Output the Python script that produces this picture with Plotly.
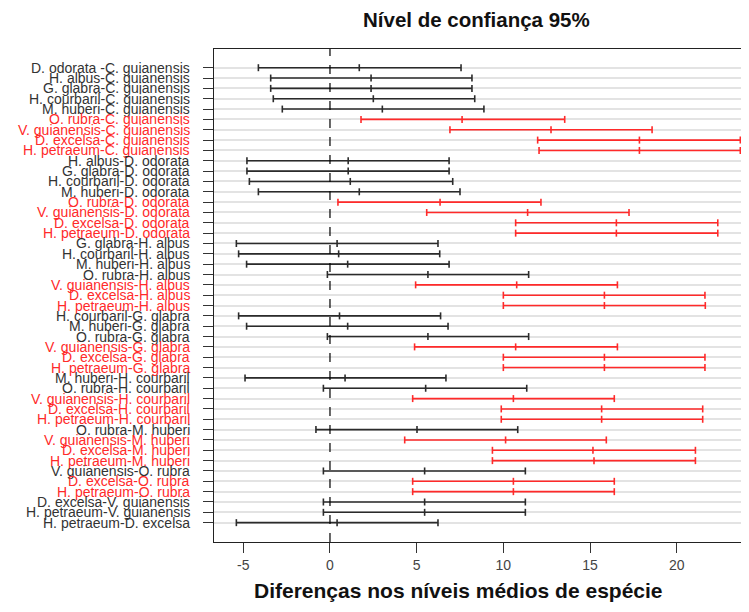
import plotly.graph_objects as go

comparisons = [
    "D. odorata -C. guianensis", "H. albus-C. guianensis", "G. glabra-C. guianensis",
    "H. courbaril-C. guianensis", "M. huberi-C. guianensis", "O. rubra-C. guianensis",
    "V. guianensis-C. guianensis", "D. excelsa-C. guianensis", "H. petraeum-C. guianensis",
    "H. albus-D. odorata", "G. glabra-D. odorata", "H. courbaril-D. odorata",
    "M. huberi-D. odorata", "O. rubra-D. odorata", "V. guianensis-D. odorata",
    "D. excelsa-D. odorata", "H. petraeum-D. odorata",
    "G. glabra-H. albus", "H. courbaril-H. albus", "M. huberi-H. albus", "O. rubra-H. albus",
    "V. guianensis-H. albus", "D. excelsa-H. albus", "H. petraeum-H. albus",
    "H. courbaril-G. glabra", "M. huberi-G. glabra", "O. rubra-G. glabra",
    "V. guianensis-G. glabra", "D. excelsa-G. glabra", "H. petraeum-G. glabra",
    "M. huberi-H. courbaril", "O. rubra-H. courbaril", "V. guianensis-H. courbaril",
    "D. excelsa-H. courbaril", "H. petraeum-H. courbaril",
    "O. rubra-M. huberi", "V. guianensis-M. huberi", "D. excelsa-M. huberi", "H. petraeum-M. huberi",
    "V. guianensis-O. rubra", "D. excelsa-O. rubra", "H. petraeum-O. rubra",
    "D. excelsa-V. guianensis", "H. petraeum-V. guianensis", "H. petraeum-D. excelsa",
]

diff = [1.69, 2.37, 2.37, 2.50, 3.02, 7.62, 12.75, 17.85, 17.85,
        1.05, 1.05, 1.17, 1.69, 6.35, 11.40, 16.52, 16.52,
        0.41, 0.50, 1.02, 5.65, 10.77, 15.83, 15.83,
        0.55, 1.02, 5.65, 10.71, 15.83, 15.83,
        0.87, 5.52, 10.58, 15.67, 15.67,
        5.02, 10.13, 15.17, 15.23,
        5.46, 10.58, 10.58,
        5.46, 5.46, 0.41]

lwr = [-4.13, -3.42, -3.42, -3.27, -2.75, 1.79, 6.92, 11.98, 12.06,
       -4.79, -4.79, -4.65, -4.13, 0.46, 5.58, 10.71, 10.71,
       -5.40, -5.27, -4.81, -0.15, 4.94, 10.00, 10.00,
       -5.27, -4.81, -0.15, 4.88, 10.00, 10.00,
       -4.90, -0.38, 4.77, 9.88, 9.88,
       -0.81, 4.31, 9.37, 9.37,
       -0.38, 4.77, 4.77,
       -0.38, -0.38, -5.40]

upr = [7.56, 8.19, 8.19, 8.35, 8.88, 13.54, 18.58, 23.67, 23.67,
       6.87, 6.87, 7.08, 7.50, 12.17, 17.25, 22.37, 22.37,
       6.23, 6.33, 6.87, 11.46, 16.58, 21.63, 21.65,
       6.38, 6.81, 11.46, 16.58, 21.63, 21.63,
       6.69, 11.35, 16.40, 21.50, 21.50,
       10.83, 15.94, 21.08, 21.08,
       11.27, 16.40, 16.40,
       11.27, 11.27, 6.23]

x_ticks = [-5, 0, 5, 10, 15, 20]

BLACK = "#2b2b2b"
RED = "#ff2a2a"

# page offset (browser body margin) and figure geometry
OFF = 8
W, H = 741, 604
ML, MR, MT, MB = 206, 4, 41, 70
PW, PH = W - ML - MR, H - MT - MB


def px_to_paper_x(px):
    return (px - OFF - ML) / PW


def px_to_paper_y(py):
    return 1 - (py - OFF - MT) / PH


fig = go.Figure()

for sig, color in [(False, BLACK), (True, RED)]:
    xs, ys, mx, my = [], [], [], []
    for c, d, lo, hi in zip(comparisons, diff, lwr, upr):
        if (lo > 0) != sig:
            continue
        xs += [lo, hi, None]
        ys += [c, c, None]
        mx += [lo, d, hi]
        my += [c, c, c]
    fig.add_trace(go.Scatter(x=xs, y=ys, mode="lines",
                             line=dict(color=color, width=1.6),
                             hoverinfo="skip", showlegend=False))
    fig.add_trace(go.Scatter(x=mx, y=my, mode="markers",
                             marker=dict(symbol="line-ns", size=5,
                                         line=dict(color=color, width=1.6)),
                             showlegend=False))

fig.add_vline(x=0, line=dict(color="black", width=1.2, dash="dash"))

annotations = []
for c, lo in zip(comparisons, lwr):
    annotations.append(dict(
        text=c, x=px_to_paper_x(192), xref="paper", y=c, yref="y",
        xanchor="right", yanchor="middle", showarrow=False,
        font=dict(size=14, color=RED if lo > 0 else "#333333"),
    ))
annotations.append(dict(
    text="<b>Nível de confiança 95%</b>", x=px_to_paper_x(476), y=px_to_paper_y(20),
    xref="paper", yref="paper", xanchor="center", yanchor="middle",
    showarrow=False, font=dict(size=20.5, color="#111111")))
annotations.append(dict(
    text="<b>Diferenças nos níveis médios de espécie</b>", x=px_to_paper_x(458),
    y=px_to_paper_y(590), xref="paper", yref="paper", xanchor="center", yanchor="middle",
    showarrow=False, font=dict(size=21, color="#111111")))

n = len(comparisons)
fig.update_layout(
    width=W, height=H,
    margin=dict(l=ML, r=MR, t=MT, b=MB, autoexpand=False),
    paper_bgcolor="white", plot_bgcolor="white",
    font=dict(family="Liberation Sans, Arial, sans-serif", color="#333333"),
    xaxis=dict(
        range=[-6.69, 23.94], tickvals=x_ticks, ticktext=[str(v) for v in x_ticks],
        showgrid=False, zeroline=False, automargin=False,
        showline=True, mirror=True, linecolor="#222222", linewidth=1,
        ticks="outside", ticklen=10, tickcolor="#333333", tickwidth=1,
        tickfont=dict(size=14, color="#444444"),
    ),
    yaxis=dict(
        type="category", categoryorder="array", categoryarray=comparisons,
        range=[n - 1 + 1.87, -1.81], automargin=False,
        tickvals=comparisons, showticklabels=False,
        showgrid=True, gridcolor="#e3e3e3", gridwidth=2,
        zeroline=False,
        showline=True, mirror=True, linecolor="#222222", linewidth=1,
        ticks="outside", ticklen=10, tickcolor="#333333", tickwidth=1,
    ),
    annotations=annotations,
)

fig.write_html("out.html")
